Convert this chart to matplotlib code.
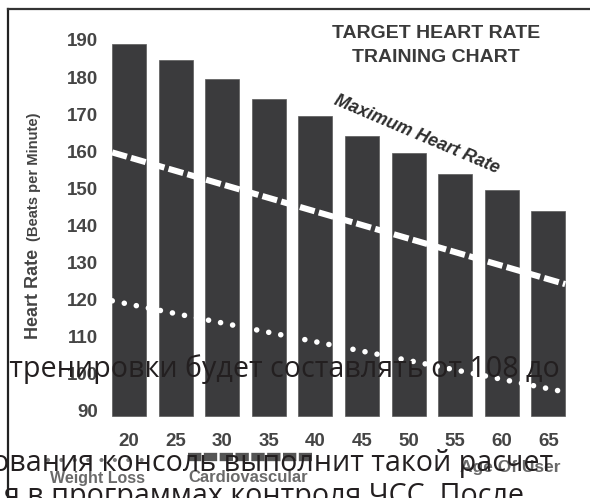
import matplotlib
matplotlib.use("Agg")
import numpy as np
import matplotlib.pyplot as plt
from matplotlib.lines import Line2D

# --- dati ---
ages = [20, 25, 30, 35, 40, 45, 50, 55, 60, 65]
bar_top = [189, 184.5, 179.5, 174, 169.5, 164, 159.5, 154, 149.5, 144]
bar_base = 88.6
yticks = [90, 100, 110, 120, 130, 140, 150, 160, 170, 180, 190]

# linea tratteggiata (frequenza massima) e punteggiata (perdita di peso)
maxhr_age = [18.2, 66.8]
maxhr_bpm = [159.7, 124.2]
loss_age = [18.2, 66.8]
loss_bpm = [119.7, 95.1]

testo_ru = [
    "я тренировки будет составлять от 108 до",
    "ования консоль выполнит такой расчет",
    "я в программах контроля ЧСС. После",
]

W, H = 590, 498
fig = plt.figure(figsize=(W / 100, H / 100), dpi=100)
fig.patch.set_facecolor("white")


def fx(px):
    return px / W


def fy(py):
    return 1 - py / H


# assi principali: pixel 105..580 in x, 20..420 in y
ax = fig.add_axes([fx(105), fy(420), (580 - 105) / W, (420 - 20) / H])
ax.set_xlim(17.425, 68.39)
ax.set_ylim(87.57, 195.39)
for s in ax.spines.values():
    s.set_visible(False)
ax.set_facecolor("none")

bar_col = "#3b3b3d"
ax.bar(ages, np.array(bar_top) - bar_base, bottom=bar_base, width=3.65,
       color=bar_col, edgecolor="#5a5a5a", linewidth=0.5, zorder=2)

ax.plot(maxhr_age, maxhr_bpm, color="white", lw=4.4, dashes=(2.5, 0.7),
        solid_capstyle="butt", dash_capstyle="butt", zorder=3)
ax.plot(loss_age, loss_bpm, color="white", lw=4.0, dashes=(0.01, 2.2),
        dash_capstyle="round", zorder=3)

tick_col = "#454545"
ax.set_xticks(ages)
ax.set_xticklabels([str(a) for a in ages])
ax.set_yticks(yticks)
ax.set_yticklabels([str(v) for v in yticks])
ax.tick_params(axis="both", length=0, labelsize=13.5, labelcolor=tick_col)
ax.tick_params(axis="y", pad=5.3)
ax.tick_params(axis="x", pad=9)
for lab in ax.get_xticklabels() + ax.get_yticklabels():
    lab.set_fontfamily("Liberation Sans")
    lab.set_fontweight("bold")

ax.text(50.9, 164.4, "Maximum Heart Rate", rotation=-23, rotation_mode="anchor",
        ha="center", va="center", fontsize=13, fontweight="bold", style="italic",
        family="Liberation Sans", color="#2e2e2e", zorder=4)

# titolo
fig.text(fx(436), fy(34), "TARGET HEART RATE", ha="center", va="center",
         fontsize=14, fontweight="bold", family="Liberation Sans", color="#3a3a3a")
fig.text(fx(436), fy(57), "TRAINING CHART", ha="center", va="center",
         fontsize=14, fontweight="bold", family="Liberation Sans", color="#3a3a3a")

# etichetta asse y
fig.text(fx(34), fy(294), "Heart Rate", rotation=90, ha="center", va="center",
         fontsize=13, fontweight="bold", family="Liberation Sans", color="#444444")
fig.text(fx(34), fy(177), "(Beats per Minute)", rotation=90, ha="center", va="center",
         fontsize=10.6, fontweight="bold", family="Liberation Sans", color="#444444")

# cornice
fig.add_artist(Line2D([fx(8), fx(8)], [fy(9), fy(H)], color="#222222", lw=1.6))
fig.add_artist(Line2D([fx(8), fx(W)], [fy(9), fy(9)], color="#333333", lw=1.6))

# legenda in basso
fig.add_artist(Line2D([fx(48), fx(147)], [fy(460), fy(460)], color="#7a7a7a",
                      lw=3.0, dashes=(0.01, 3.2), dash_capstyle="round"))
fig.add_artist(Line2D([fx(188), fx(312)], [fy(457), fy(457)], color="#555555",
                      lw=6.0, dashes=(1.6, 0.3), dash_capstyle="butt"))
fig.text(fx(97), fy(478), "Weight Loss", ha="center", va="center", fontsize=11.5,
         fontweight="bold", family="Liberation Sans", color="#6a6a6a")
fig.text(fx(248), fy(477), "Cardiovascular", ha="center", va="center", fontsize=12,
         fontweight="bold", family="Liberation Sans", color="#6a6a6a")
fig.text(fx(510), fy(467), "Age Of User", ha="center", va="center", fontsize=12.5,
         fontweight="bold", family="Liberation Sans", color="#6a6a6a")

# testo russo sovrapposto
ru_col = "#231f20"
ru_size = 20.6
fig.text(fx(560), fy(377), testo_ru[0], ha="right", va="baseline", fontsize=ru_size,
         family="Open Sans", color=ru_col)
fig.text(fx(553), fy(471), testo_ru[1], ha="right", va="baseline", fontsize=ru_size,
         family="Open Sans", color=ru_col)
fig.text(fx(524), fy(504), testo_ru[2], ha="right", va="baseline", fontsize=ru_size,
         family="Open Sans", color=ru_col)

fig.savefig("out.png", dpi=100)
